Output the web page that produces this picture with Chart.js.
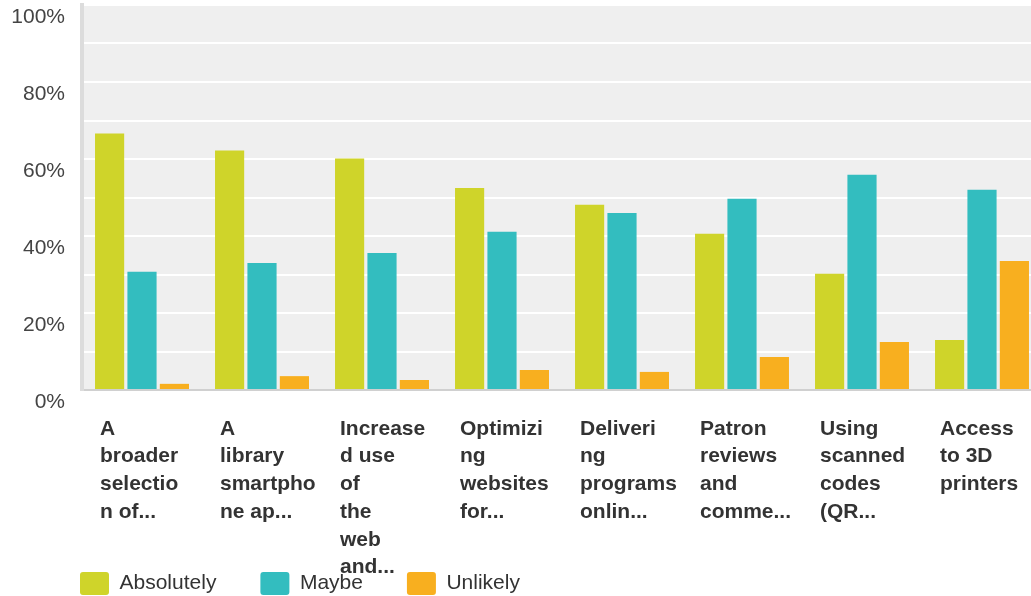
<!DOCTYPE html>
<html>
<head>
<meta charset="utf-8">
<script src="https://cdn.jsdelivr.net/npm/chart.js@4"></script>
<style>
    html, body { margin: 0; padding: 0; overflow: hidden; background: #fff; }
    canvas { display: block; }
</style>
</head>
<body>
<canvas id="surveyChart" width="1042" height="605"></canvas>
<script>
// category labels, already wrapped the way the original shows them
const categories = [
    ['A', 'broader', 'selectio', 'n of...'],
    ['A', 'library', 'smartpho', 'ne ap...'],
    ['Increase', 'd use', 'of', 'the', 'web', 'and...'],
    ['Optimizi', 'ng', 'websites', 'for...'],
    ['Deliveri', 'ng', 'programs', 'onlin...'],
    ['Patron', 'reviews', 'and', 'comme...'],
    ['Using', 'scanned', 'codes', '(QR...'],
    ['Access', 'to 3D', 'printers']
];

const seriesNames = ['Absolutely', 'Maybe', 'Unlikely'];
const seriesColors = ['#cfd42a', '#33bdbf', '#f8af1f'];

// percent of respondents
const absolutelyValues = [66.6, 62.2, 60.1, 52.5, 48.1, 40.6, 30.2, 13.0];
const maybeValues = [30.7, 33.0, 35.6, 41.1, 46.0, 49.7, 55.9, 52.0];
const unlikelyValues = [1.6, 3.6, 2.6, 5.2, 4.7, 8.6, 12.5, 33.5];

const yMin = 0;
const yMax = 100;
const yGridStep = 10;
const yLabelStep = 20;

const legendPadding = 44;

// grey plot background
const plotBackground = {
    id: 'plotBackground',
    beforeDraw(chart) {
        const area = chart.chartArea;
        const ctx = chart.ctx;
        ctx.save();
        ctx.fillStyle = '#efefef';
        ctx.fillRect(area.left, area.top, area.right - area.left, area.bottom - area.top);
        ctx.restore();
    }
};

// the original lets the long category names run down into the legend row,
// and starts the legend under the y axis line
const looseLayout = {
    id: 'looseLayout',
    afterLayout(chart) {
        chart.scales.x.bottom = chart.height;
        chart.legend.left = 80 - legendPadding;
    }
};

const allValues = [absolutelyValues, maybeValues, unlikelyValues];

const ctx = document.getElementById('surveyChart').getContext('2d');
const chart = new Chart(ctx, {
    type: 'bar',
    data: {
        labels: categories,
        datasets: seriesNames.map((name, i) => ({
            label: name,
            data: allValues[i],
            backgroundColor: seriesColors[i],
            borderWidth: 0,
            categoryPercentage: 0.81,
            barPercentage: 0.9
        }))
    },
    options: {
        responsive: false,
        animation: false,
        layout: {
            padding: { left: 0, top: 5, right: 0, bottom: 0 }
        },
        plugins: {
            tooltip: { enabled: false },
            legend: {
                position: 'bottom',
                align: 'start',
                labels: {
                    boxWidth: 29,
                    boxHeight: 23,
                    useBorderRadius: true,
                    borderRadius: 3,
                    padding: legendPadding,
                    color: '#333',
                    font: { family: '"Liberation Sans", Arial, sans-serif', size: 21 }
                }
            }
        },
        scales: {
            x: {
                grid: { display: false, drawTicks: false },
                border: { display: true, color: '#d0d0d0', width: 2 },
                ticks: {
                    align: 'start',
                    labelOffset: -42,
                    padding: 25,
                    autoSkip: false,
                    minRotation: 0,
                    maxRotation: 0,
                    color: '#333',
                    font: { family: '"Liberation Sans", Arial, sans-serif', size: 21, weight: 'bold', lineHeight: 1.32 }
                },
                afterFit(scale) {
                    scale.height = 138;
                    scale.paddingLeft = 0;
                    scale.paddingRight = 0;
                }
            },
            y: {
                min: yMin,
                max: yMax,
                grid: { color: '#ffffff', lineWidth: 2, drawTicks: false },
                border: { display: true, color: '#dcdcdc', width: 4 },
                ticks: {
                    stepSize: yGridStep,
                    padding: 17,
                    labelOffset: 12,
                    color: '#444',
                    font: { family: '"Liberation Sans", Arial, sans-serif', size: 21 },
                    callback: (v) => (v % yLabelStep === 0 ? v + '%' : '')
                },
                afterFit(scale) {
                    scale.width = 82;
                    scale.paddingTop = 0;
                    scale.paddingBottom = 0;
                }
            }
        }
    },
    plugins: [plotBackground, looseLayout]
});
</script>
</body>
</html>
